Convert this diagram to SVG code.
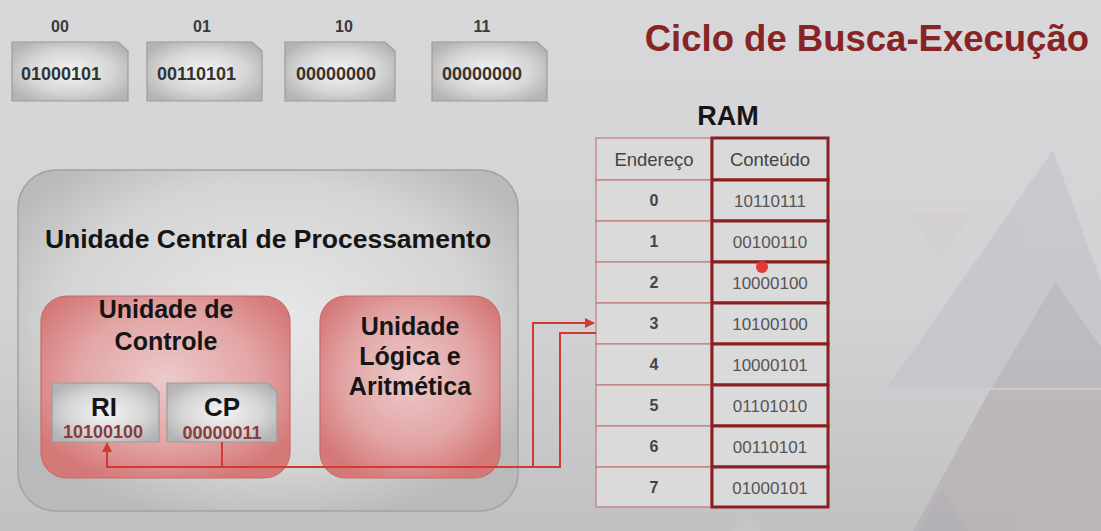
<svg xmlns="http://www.w3.org/2000/svg" width="1101" height="531" viewBox="0 0 1101 531">
  <defs>
    <linearGradient id="bg" x1="0" y1="0" x2="0" y2="1">
      <stop offset="0" stop-color="#d8d8da"/>
      <stop offset="0.6" stop-color="#d2d2d4"/>
      <stop offset="1" stop-color="#c1c1c4"/>
    </linearGradient>
    <radialGradient id="silver" cx="0.5" cy="0.5" r="0.6">
      <stop offset="0" stop-color="#f4f4f4"/>
      <stop offset="0.6" stop-color="#d6d6d6"/>
      <stop offset="1" stop-color="#b4b4b4"/>
    </radialGradient>
    <radialGradient id="cpuFill" cx="0.5" cy="0.45" r="0.6">
      <stop offset="0" stop-color="#e8e8e8"/>
      <stop offset="0.7" stop-color="#d4d4d4"/>
      <stop offset="1" stop-color="#bababa"/>
    </radialGradient>
    <radialGradient id="pink" cx="0.5" cy="0.45" r="0.6">
      <stop offset="0" stop-color="#eccaca"/>
      <stop offset="0.6" stop-color="#e3a5a5"/>
      <stop offset="1" stop-color="#d57878"/>
    </radialGradient>
    <marker id="arrow" viewBox="0 0 10 10" refX="9" refY="5" markerWidth="5" markerHeight="5" orient="auto">
      <path d="M0,0 L10,5 L0,10 z" fill="#d03a30"/>
    </marker>
  </defs>
  <style>
    .sans { font-family: "Liberation Sans", Arial, sans-serif; }
    .card { fill: url(#silver); stroke: #9c9c9c; stroke-width: 1.2; }
    .cardLabel { font-family: "Liberation Sans", Arial, sans-serif; font-weight: bold; font-size: 16px; fill: #3a3a3a; text-anchor: middle; }
    .cardText { font-family: "Liberation Sans", Arial, sans-serif; font-weight: bold; font-size: 18px; fill: #333; }
    .unit { fill: url(#pink); stroke: #c46c6c; stroke-width: 1.2; }
    .unitText { font-family: "Liberation Sans", Arial, sans-serif; font-weight: bold; font-size: 25px; fill: #151515; text-anchor: middle; }
    .regName { font-family: "Liberation Sans", Arial, sans-serif; font-weight: bold; font-size: 26px; fill: #151515; text-anchor: middle; }
    .regVal { font-family: "Liberation Sans", Arial, sans-serif; font-weight: bold; font-size: 18px; fill: #8e3b3b; text-anchor: middle; }
    .addrCell { fill: #dadadb; stroke: #c27a7a; stroke-width: 1.2; }
    .dataCell { fill: #dadadb; stroke: #8c1f1f; stroke-width: 3; }
    .th { font-family: "Liberation Sans", Arial, sans-serif; font-size: 18.5px; fill: #444; text-anchor: middle; }
    .addr { font-family: "Liberation Sans", Arial, sans-serif; font-weight: bold; font-size: 16px; fill: #444; text-anchor: middle; }
    .data { font-family: "Liberation Sans", Arial, sans-serif; font-size: 17px; fill: #555; text-anchor: middle; }
    .wire { fill: none; stroke: #d03a30; stroke-width: 2; }
  </style>

  <!-- background -->
  <rect x="0" y="0" width="1101" height="531" fill="url(#bg)"/>
  <!-- decorative triangles on the right -->
  <g opacity="0.75">
    <polygon points="1053,150 1140,388 887,388" fill="#c4c4cc"/>
    <polygon points="1055,282 1130,388 992,388" fill="#b7b3bb"/>
    <polygon points="908,212 973,212 940,260" fill="#d4cfcf"/>
    <polygon points="990,390 1101,390 1101,531 913,531" fill="#b8b2b2"/>
    <polygon points="942,488 968,531 918,531" fill="#b0acb2"/>
    <polygon points="745,515 760,531 730,531" fill="#c6c6c9"/>
  </g>

  <!-- title -->
  <text class="sans" x="1089" y="51" text-anchor="end" font-size="36.5" font-weight="bold" fill="#882424">Ciclo de Busca-Execução</text>

  <!-- memory words with their addresses -->
  <g id="word-00">
    <text class="cardLabel" x="60" y="32">00</text>
    <path class="card" d="M12,42 H118 L128,51 V101 H12 Z"/>
    <text class="cardText" x="21" y="80">01000101</text>
  </g>
  <g id="word-01">
    <text class="cardLabel" x="202" y="32">01</text>
    <path class="card" d="M147,42 H252 L262,51 V101 H147 Z"/>
    <text class="cardText" x="157" y="80">00110101</text>
  </g>
  <g id="word-10">
    <text class="cardLabel" x="344" y="32">10</text>
    <path class="card" d="M285,42 H385 L395,51 V101 H285 Z"/>
    <text class="cardText" x="296" y="80">00000000</text>
  </g>
  <g id="word-11">
    <text class="cardLabel" x="482" y="32">11</text>
    <path class="card" d="M432,42 H537 L547,51 V101 H432 Z"/>
    <text class="cardText" x="442" y="80">00000000</text>
  </g>

  <!-- CPU -->
  <g id="cpu">
    <rect x="18" y="170" width="500" height="341" rx="38" fill="url(#cpuFill)" stroke="#a2a2a2" stroke-width="1.5"/>
    <text class="sans" x="268" y="248" text-anchor="middle" font-size="26.5" font-weight="bold" fill="#151515">Unidade Central de Processamento</text>
  </g>

  <g id="control-unit">
    <rect class="unit" x="41" y="296" width="249" height="182" rx="26"/>
    <text class="unitText" x="166" y="318">Unidade de</text>
    <text class="unitText" x="166" y="350">Controle</text>
  </g>

  <g id="alu">
    <rect class="unit" x="320" y="296" width="180" height="182" rx="26"/>
    <text class="unitText" x="410" y="335">Unidade</text>
    <text class="unitText" x="410" y="365">Lógica e</text>
    <text class="unitText" x="410" y="395">Aritmética</text>
  </g>

  <g id="reg-ri">
    <path class="card" d="M52,383 H150 L159,392 V442 H52 Z"/>
    <text class="regName" x="104" y="416">RI</text>
    <text class="regVal" x="103" y="438">10100100</text>
  </g>

  <g id="reg-cp">
    <path class="card" d="M167,383 H268 L277,392 V442 H167 Z"/>
    <text class="regName" x="222" y="416">CP</text>
    <text class="regVal" x="222" y="439">00000011</text>
  </g>

  <!-- RAM table -->
  <g id="ram">
    <text class="sans" x="728" y="125" text-anchor="middle" font-size="27" font-weight="bold" fill="#151515">RAM</text>
    <rect class="addrCell" x="596" y="138" width="115" height="42"/>
    <rect class="dataCell" x="712" y="138" width="116" height="42"/>
    <text class="th" x="654" y="166">Endereço</text>
    <text class="th" x="770" y="166">Conteúdo</text>

    <rect class="addrCell" x="596" y="180" width="115" height="41"/>
    <rect class="dataCell" x="712" y="180" width="116" height="41"/>
    <text class="addr" x="654" y="206">0</text>
    <text class="data" x="770" y="207">10110111</text>

    <rect class="addrCell" x="596" y="221" width="115" height="41"/>
    <rect class="dataCell" x="712" y="221" width="116" height="41"/>
    <text class="addr" x="654" y="247">1</text>
    <text class="data" x="770" y="248">00100110</text>

    <rect class="addrCell" x="596" y="262" width="115" height="41"/>
    <rect class="dataCell" x="712" y="262" width="116" height="41"/>
    <text class="addr" x="654" y="288">2</text>
    <text class="data" x="770" y="289">10000100</text>

    <rect class="addrCell" x="596" y="303" width="115" height="41"/>
    <rect class="dataCell" x="712" y="303" width="116" height="41"/>
    <text class="addr" x="654" y="329">3</text>
    <text class="data" x="770" y="330">10100100</text>

    <rect class="addrCell" x="596" y="344" width="115" height="41"/>
    <rect class="dataCell" x="712" y="344" width="116" height="41"/>
    <text class="addr" x="654" y="370">4</text>
    <text class="data" x="770" y="371">10000101</text>

    <rect class="addrCell" x="596" y="385" width="115" height="41"/>
    <rect class="dataCell" x="712" y="385" width="116" height="41"/>
    <text class="addr" x="654" y="411">5</text>
    <text class="data" x="770" y="412">01101010</text>

    <rect class="addrCell" x="596" y="426" width="115" height="41"/>
    <rect class="dataCell" x="712" y="426" width="116" height="41"/>
    <text class="addr" x="654" y="452">6</text>
    <text class="data" x="770" y="453">00110101</text>

    <rect class="addrCell" x="596" y="467" width="115" height="40"/>
    <rect class="dataCell" x="712" y="467" width="116" height="40"/>
    <text class="addr" x="654" y="493">7</text>
    <text class="data" x="770" y="494">01000101</text>
  </g>

  <!-- connectors -->
  <g id="connectors">
    <!-- address from CP to RAM -->
    <path class="wire" d="M222,442 V467 H533 V323 H594" marker-end="url(#arrow)"/>
    <!-- instruction from RAM to RI -->
    <path class="wire" d="M596,333 H560 V467 H107 V443" marker-end="url(#arrow)"/>
  </g>

  <!-- pointer dot -->
  <circle cx="762" cy="267" r="6" fill="#e23a34"/>
</svg>
